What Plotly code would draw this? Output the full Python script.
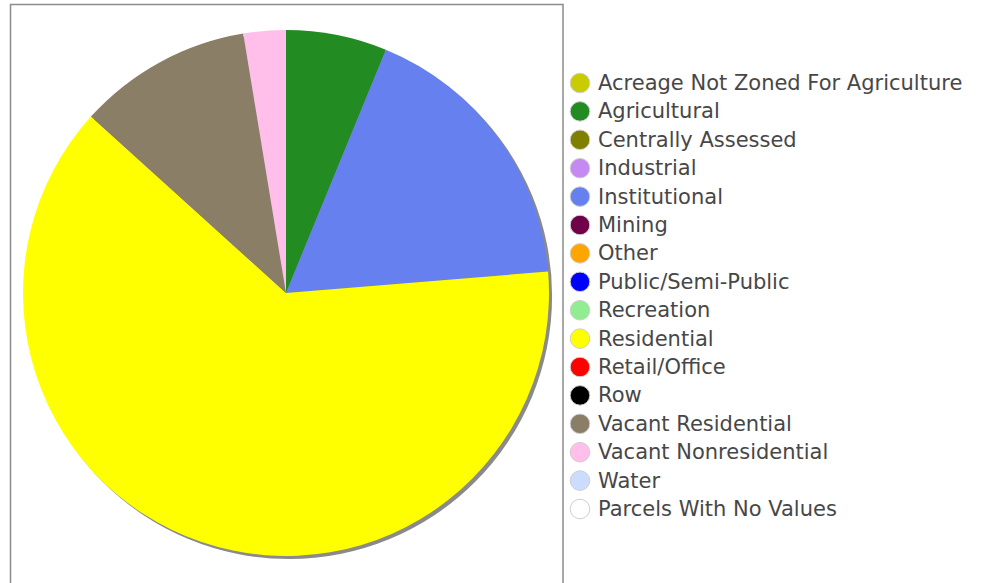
import plotly.graph_objects as go

# Land-use categories (legend order) and their share of acreage
categories = [
    "Acreage Not Zoned For Agriculture", "Agricultural", "Centrally Assessed",
    "Industrial", "Institutional", "Mining", "Other", "Public/Semi-Public",
    "Recreation", "Residential", "Retail/Office", "Row", "Vacant Residential",
    "Vacant Nonresidential", "Water", "Parcels With No Values",
]
values = [0, 6.2, 0, 0, 17.5, 0, 0, 0, 0, 63.0, 0, 0, 10.7, 2.6, 0, 0]
colors = [
    "#C8CC00", "#228B22", "#808000", "#C58AF2", "#6680F0", "#700048",
    "#FFA500", "#0000FF", "#90EE90", "#FFFF00", "#FF0000", "#000000",
    "#8B7E66", "#FFBFEA", "#CCDCFF", "#FFFFFF",
]

W, H = 986, 583
cx, cy, r = 286, 293, 263       # pie centre / radius in pixels
shadow_dx = 3


def px_domain(x0, x1, y0, y1):
    return dict(x=[x0 / W, x1 / W], y=[1 - y1 / H, 1 - y0 / H])


shown = [(c, v, col) for c, v, col in zip(categories, values, colors) if v > 0]

fig = go.Figure()

# drop shadow behind the pie
fig.add_trace(go.Pie(
    values=[1], labels=["shadow"],
    marker=dict(colors=["#8a8a8a"], line=dict(width=0)),
    domain=px_domain(cx - r + shadow_dx, cx + r + shadow_dx,
                     cy - r + shadow_dx, cy + r + shadow_dx),
    textinfo="none", hoverinfo="skip", showlegend=False, sort=False,
))

fig.add_trace(go.Pie(
    labels=[s[0] for s in shown],
    values=[s[1] for s in shown],
    marker=dict(colors=[s[2] for s in shown], line=dict(width=0)),
    domain=px_domain(cx - r, cx + r, cy - r, cy + r),
    direction="clockwise", rotation=0, sort=False,
    textinfo="none", showlegend=False,
))

shapes = [dict(
    type="rect", xref="paper", yref="paper",
    x0=10.5 / W, x1=563 / W, y0=1 - 620 / H, y1=1 - 4.5 / H,
    line=dict(color="#8c8c8c", width=1.5), fillcolor="rgba(0,0,0,0)",
)]
annotations = []

# legend: circular swatches with labels
row0, step, dot_x, dot_r, text_x = 83, 28.4, 580, 9.8, 596
for i, (cat, col) in enumerate(zip(categories, colors)):
    y = row0 + i * step
    shapes.append(dict(
        type="circle", xref="paper", yref="paper",
        x0=(dot_x - dot_r) / W, x1=(dot_x + dot_r) / W,
        y0=1 - (y + dot_r) / H, y1=1 - (y - dot_r) / H,
        fillcolor=col, line=dict(color="#cfcfcf", width=1),
    ))
    annotations.append(dict(
        text=cat, xref="paper", yref="paper",
        x=text_x / W, y=1 - y / H, xanchor="left", yanchor="middle",
        showarrow=False,
        font=dict(family="DejaVu Sans", size=21, color="#474747"),
    ))

fig.update_layout(
    width=W, height=H,
    margin=dict(l=0, r=0, t=0, b=0),
    paper_bgcolor="white", plot_bgcolor="white",
    shapes=shapes, annotations=annotations,
    showlegend=False,
)

fig.write_html("out.html")
